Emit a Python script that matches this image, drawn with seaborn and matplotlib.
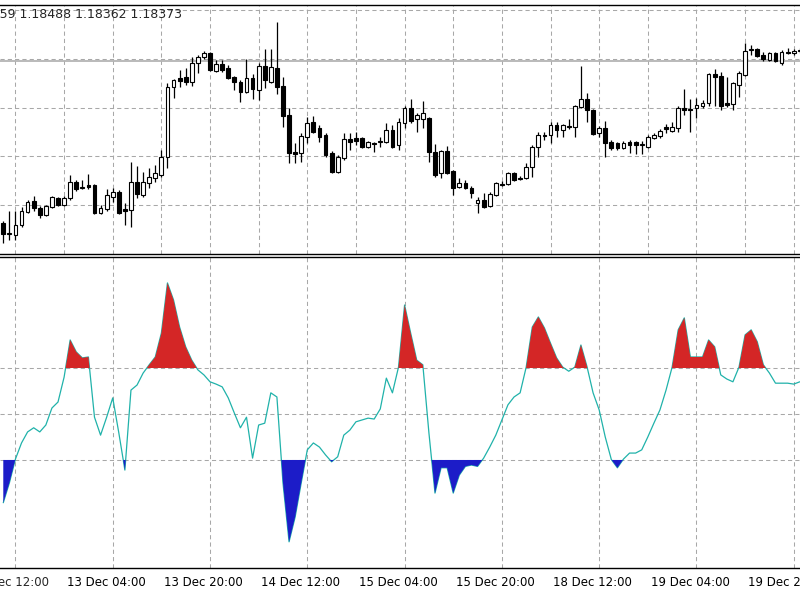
import numpy as np
import matplotlib
matplotlib.use("Agg")
import matplotlib.pyplot as plt
import seaborn as sns
from matplotlib import transforms

# EURUSD H1 candles (bar 0 = 12 Dec 18:00)
open_ = [1.17518, 1.17463, 1.17458, 1.17508, 1.17573, 1.17628, 1.17593, 1.17558, 1.17598, 1.17643,
         1.17608, 1.17643, 1.17723, 1.17693, 1.17708, 1.17708, 1.17568, 1.17588, 1.17648, 1.17673,
         1.17588, 1.17583, 1.17723, 1.17658, 1.17718, 1.17743, 1.17758, 1.17848, 1.18198, 1.18243,
         1.18248, 1.18223, 1.18318, 1.18348, 1.18368, 1.18278, 1.18313, 1.18293, 1.18248, 1.18223,
         1.18173, 1.18243, 1.18183, 1.18303, 1.18223, 1.18293, 1.18203, 1.18058, 1.17873, 1.17868,
         1.17948, 1.18023, 1.17993, 1.17958, 1.17868, 1.17773, 1.17843, 1.17938, 1.17943, 1.17943,
         1.17898, 1.17918, 1.17923, 1.17923, 1.17983, 1.17908, 1.18018, 1.18093, 1.18038, 1.18038,
         1.18043, 1.17873, 1.17768, 1.17878, 1.17778, 1.17698, 1.17718, 1.17693, 1.17618, 1.17633,
         1.17603, 1.17658, 1.17713, 1.17713, 1.17768, 1.17743, 1.17743, 1.17798, 1.17898, 1.17958,
         1.17958, 1.18008, 1.17983, 1.18003, 1.17998, 1.18098, 1.18138, 1.18083, 1.17968, 1.17993,
         1.17923, 1.17918, 1.17893, 1.17923, 1.17923, 1.17908, 1.17898, 1.17943, 1.17953, 1.17998,
         1.17978, 1.17993, 1.18093, 1.18088, 1.18093, 1.18103, 1.18118, 1.18263, 1.18253, 1.18118,
         1.18113, 1.18208, 1.18258, 1.18383, 1.18388, 1.18358, 1.18333, 1.18368, 1.18318, 1.18373,
         1.18368, 1.18378]
high = [1.17528, 1.17578, 1.17578, 1.17598, 1.17633, 1.17653, 1.17603, 1.17608, 1.17653, 1.17648,
        1.17653, 1.17758, 1.17733, 1.17733, 1.17763, 1.17713, 1.17608, 1.17688, 1.17693, 1.17683,
        1.17618, 1.17823, 1.17803, 1.17773, 1.17793, 1.17808, 1.17883, 1.18218, 1.18238, 1.18283,
        1.18293, 1.18348, 1.18358, 1.18378, 1.18373, 1.18333, 1.18333, 1.18308, 1.18253, 1.18233,
        1.18338, 1.18263, 1.18318, 1.18388, 1.18388, 1.18523, 1.18248, 1.18093, 1.17918, 1.17968,
        1.18048, 1.18053, 1.18008, 1.17968, 1.17878, 1.17858, 1.17968, 1.17968, 1.17973, 1.17948,
        1.17928, 1.17923, 1.17948, 1.18018, 1.18008, 1.18043, 1.18103, 1.18138, 1.18068, 1.18128,
        1.18048, 1.17913, 1.17883, 1.17903, 1.17783, 1.17743, 1.17733, 1.17703, 1.17648, 1.17668,
        1.17673, 1.17723, 1.17728, 1.17773, 1.17773, 1.17753, 1.17818, 1.17908, 1.17973, 1.17973,
        1.18023, 1.18023, 1.18013, 1.18038, 1.18108, 1.18303, 1.18168, 1.18088, 1.18003, 1.18028,
        1.17933, 1.17923, 1.17928, 1.17933, 1.17928, 1.17928, 1.17958, 1.17968, 1.17988, 1.18013,
        1.18023, 1.18103, 1.18188, 1.18138, 1.18143, 1.18133, 1.18268, 1.18288, 1.18273, 1.18248,
        1.18223, 1.18278, 1.18418, 1.18408, 1.18393, 1.18373, 1.18373, 1.18373, 1.18383, 1.18393,
        1.18388, 1.18393]
low = [1.17418, 1.17433, 1.17433, 1.17498, 1.17568, 1.17578, 1.17543, 1.17553, 1.17593, 1.17603,
       1.17603, 1.17633, 1.17678, 1.17688, 1.17688, 1.17563, 1.17563, 1.17578, 1.17623, 1.17563,
       1.17508, 1.17498, 1.17643, 1.17648, 1.17693, 1.17723, 1.17748, 1.17793, 1.18143, 1.18198,
       1.18208, 1.18203, 1.18268, 1.18338, 1.18278, 1.18273, 1.18273, 1.18238, 1.18183, 1.18123,
       1.18168, 1.18138, 1.18133, 1.18193, 1.18218, 1.18163, 1.17998, 1.17818, 1.17818, 1.17823,
       1.17918, 1.17968, 1.17923, 1.17848, 1.17768, 1.17768, 1.17833, 1.17883, 1.17908, 1.17893,
       1.17893, 1.17873, 1.17898, 1.17918, 1.17893, 1.17883, 1.17993, 1.18018, 1.17973, 1.17993,
       1.17823, 1.17748, 1.17743, 1.17763, 1.17658, 1.17693, 1.17688, 1.17643, 1.17568, 1.17593,
       1.17598, 1.17653, 1.17703, 1.17708, 1.17728, 1.17733, 1.17738, 1.17748, 1.17848, 1.17933,
       1.17918, 1.17948, 1.17948, 1.17988, 1.17948, 1.18093, 1.18023, 1.17958, 1.17948, 1.17848,
       1.17883, 1.17883, 1.17888, 1.17868, 1.17863, 1.17863, 1.17893, 1.17938, 1.17943, 1.17968,
       1.17973, 1.17973, 1.18058, 1.17973, 1.18043, 1.18093, 1.18103, 1.18103, 1.18083, 1.18098,
       1.18083, 1.18148, 1.18253, 1.18358, 1.18348, 1.18328, 1.18328, 1.18323, 1.18308, 1.18363,
       1.18358, 1.18368]
close = [1.17463, 1.17468, 1.17508, 1.17578, 1.17623, 1.17593, 1.17558, 1.17603, 1.17648, 1.17608,
         1.17643, 1.17723, 1.17688, 1.17698, 1.17698, 1.17568, 1.17593, 1.17658, 1.17673, 1.17568,
         1.17578, 1.17723, 1.17663, 1.17723, 1.17748, 1.17768, 1.17848, 1.18198, 1.18233, 1.18228,
         1.18223, 1.18318, 1.18348, 1.18368, 1.18283, 1.18313, 1.18283, 1.18243, 1.18223, 1.18173,
         1.18243, 1.18188, 1.18303, 1.18233, 1.18298, 1.18198, 1.18053, 1.17868, 1.17863, 1.17953,
         1.18018, 1.17973, 1.17948, 1.17858, 1.17773, 1.17848, 1.17938, 1.17923, 1.17928, 1.17898,
         1.17923, 1.17913, 1.17928, 1.17983, 1.17898, 1.18023, 1.18093, 1.18028, 1.18058, 1.18068,
         1.17873, 1.17758, 1.17878, 1.17768, 1.17693, 1.17718, 1.17693, 1.17668, 1.17633, 1.17598,
         1.17663, 1.17718, 1.17708, 1.17768, 1.17733, 1.17738, 1.17798, 1.17898, 1.17958, 1.17953,
         1.18008, 1.17983, 1.18008, 1.17998, 1.18103, 1.18138, 1.18083, 1.17963, 1.17993, 1.17918,
         1.17893, 1.17893, 1.17918, 1.17908, 1.17908, 1.17913, 1.17948, 1.17958, 1.17978, 1.17988,
         1.17998, 1.18093, 1.18083, 1.18083, 1.18108, 1.18118, 1.18263, 1.18248, 1.18103, 1.18108,
         1.18218, 1.18268, 1.18378, 1.18388, 1.18353, 1.18338, 1.18368, 1.18328, 1.18373, 1.18368,
         1.18378, 1.18383]

# oscillator (CCI-like), levels +100 / 0 / -100
osc = [-193, -150, -98, -63, -39, -30, -39, -24, 13, 26,
       80, 161, 135, 122, 124, -7, -46, -7, 35, -41,
       -122, 52, 63, 89, 107, 124, 176, 285, 248, 189,
       146, 117, 96, 85, 70, 65, 59, 35, 2, -30,
       -7, -96, -24, -20, 46, 37, -150, -278, -224, -150,
       -78, -63, -72, -89, -104, -93, -46, -35, -17, -13,
       -9, -11, 11, 78, 46, 102, 237, 176, 117, 107,
       -41, -172, -117, -117, -172, -133, -114, -111, -114, -96,
       -72, -46, -13, 20, 37, 46, 102, 189, 211, 187,
       154, 122, 102, 93, 102, 150, 103, 46, 9, -50,
       -99, -117, -98, -85, -85, -78, -50, -20, 9, 52,
       102, 183, 209, 124, 124, 124, 161, 146, 85, 76,
       70, 102, 172, 183, 157, 107, 89, 67, 67, 67,
       65, 70]
levels = [100, 0, -100]

tick_bars = [10, 26, 42, 58, 74, 90, 106, 122]
tick_text = ["13 Dec 04:00", "13 Dec 20:00", "14 Dec 12:00", "15 Dec 04:00",
             "15 Dec 20:00", "18 Dec 12:00", "19 Dec 04:00", "19 Dec 20:00"]
header = "1.18459 1.18488 1.18362 1.18373"
price_grid = [1.18583, 1.18338, 1.18093, 1.17853, 1.17608]
bid_line = 1.18328

sns.set_style("white")
plt.rcParams["font.family"] = ["DejaVu Sans"]

o = np.array(open_)
h = np.array(high)
l = np.array(low)
c = np.array(close)
v = np.array(osc, dtype=float)
bars = np.arange(len(c))

fig = plt.figure(figsize=(8, 6), dpi=100)
ax1 = fig.add_axes([0, 0.5767, 1, 0.4158])
ax2 = fig.add_axes([0, 0.0533, 1, 0.5188])

grid_kw = dict(color="#a8a8a8", lw=0.75, linestyle=(0, (4, 3)))
xgrid = np.arange(2, 132, 8)

for ax in (ax1, ax2):
    ax.set_xlim(-0.54, 131.03)
    ax.set_xticks(xgrid, minor=True)
    ax.grid(which="minor", axis="x", **grid_kw)
    ax.set_axisbelow(True)
    ax.spines["left"].set_visible(False)
    ax.spines["right"].set_visible(False)
    for s in ("top", "bottom"):
        ax.spines[s].set_color("black")
        ax.spines[s].set_linewidth(1.0)
    ax.tick_params(axis="y", left=False, labelleft=False)
    ax.tick_params(axis="x", which="minor", length=0)

# --- price panel
ax1.set_ylim(1.17363, 1.186105)
ax1.set_yticks(price_grid)
ax1.grid(which="major", axis="y", **grid_kw)
ax1.set_xticks([])
ax1.axhline(bid_line, color="#b4b4b4", lw=1.3, zorder=1.5)

up = c >= o
body_lo = np.minimum(o, c)
body_h = np.maximum(np.abs(c - o), 0.00002)
ax1.vlines(bars, l, h, color="black", lw=0.9, zorder=2)
ax1.bar(bars[up], body_h[up], bottom=body_lo[up], width=0.62,
        color="white", edgecolor="black", linewidth=0.8, zorder=3)
ax1.bar(bars[~up], body_h[~up], bottom=body_lo[~up], width=0.62,
        color="black", edgecolor="black", linewidth=0.8, zorder=3)

# OHLC header, partly cut at the left edge as in the screenshot
fig.text(-0.0447, 1 - 15 / 600, header, fontsize=9, va="center", ha="left")

# --- oscillator panel
ax2.set_ylim(-335, 342)
ax2.set_yticks(levels)
ax2.grid(which="major", axis="y", **grid_kw)
sns.lineplot(x=bars, y=v, ax=ax2, color="#20b2aa", lw=0.9, zorder=2)
ax2.fill_between(bars, 100, v, where=v > 100, interpolate=True,
                 color="#d42626", lw=0, zorder=3)
ax2.fill_between(bars, -100, v, where=v < -100, interpolate=True,
                 color="#1c1cc8", lw=0, zorder=3)
ax2.set_xlabel("")
ax2.set_ylabel("")

ax2.set_xticks(tick_bars)
ax2.set_xticklabels(tick_text)
ax2.tick_params(axis="x", which="major", length=4.5, width=0.8, pad=1,
                labelsize=8.5, direction="out", colors="black")
shift = transforms.ScaledTranslation(2 / 72, 0, fig.dpi_scale_trans)
for lab in ax2.get_xticklabels():
    lab.set_ha("left")
    lab.set_transform(lab.get_transform() + shift)

# label of the tick just left of the visible range
trans = transforms.blended_transform_factory(ax2.transData, ax2.transAxes)
ax2.text(-6, 0, "12 Dec 12:00", fontsize=8.5, ha="left", va="top", clip_on=False,
         transform=trans + transforms.ScaledTranslation(2 / 72, -5.5 / 72, fig.dpi_scale_trans))

fig.savefig("out.png", dpi=100)
